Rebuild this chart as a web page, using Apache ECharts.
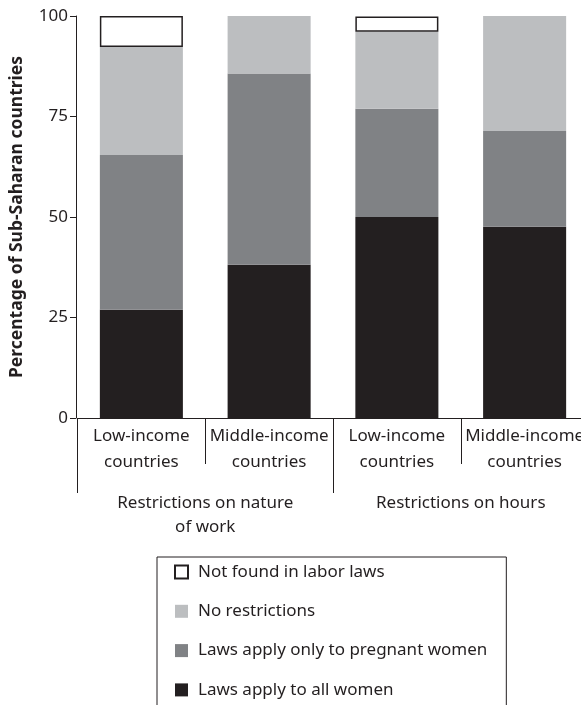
<!DOCTYPE html>
<html lang="en">
<head>
<meta charset="UTF-8">
<title>Sub-Saharan restrictions</title>
<script src="https://cdn.jsdelivr.net/npm/echarts@6/dist/echarts.min.js"></script>
<style>
  html, body { margin: 0; padding: 0; background: #fff; }
  #chart { width: 581px; height: 705px; }
</style>
</head>
<body>
<div id="chart"></div>
<script>
// categories
var categories = ['Low-income\ncountries', 'Middle-income\ncountries', 'Low-income\ncountries', 'Middle-income\ncountries'];
var groups = ['Restrictions on nature\nof work', 'Restrictions on hours'];
var yTicks = [0, 25, 50, 75, 100];

// percent of countries (stacked from the bottom)
var allWomen      = [26.9, 38.1, 50.0, 47.6];
var pregnantOnly  = [38.5, 47.6, 26.9, 23.8];
var noRestriction = [26.9, 14.3, 19.2, 28.6];
var notFound      = [7.7, 0, 3.8, 0];

var ink = '#231f20';
var font = '"Noto Sans", sans-serif';

function bar(name, data, style) {
  return {
    name: name,
    type: 'bar',
    stack: 'total',
    barWidth: '65%',
    data: data.map(function (v) { return v === 0 ? '-' : v; }),
    itemStyle: style
  };
}

var chart = echarts.init(document.getElementById('chart'));
chart.setOption({
  animation: false,
  textStyle: { fontFamily: font, color: ink },
  grid: { left: 77.5, top: 16, width: 511, height: 402, outerBoundsMode: 'none', containLabel: false },
  legend: {
    orient: 'vertical',
    left: 157,
    top: 557,
    height: 220,
    padding: [6, 19, 24, 17],
    borderColor: ink,
    borderWidth: 1,
    icon: 'rect',
    itemWidth: 13,
    itemHeight: 13,
    itemGap: 21.3,
    selectedMode: false,
    data: ['Not found in labor laws', 'No restrictions', 'Laws apply only to pregnant women', 'Laws apply to all women'],
    textStyle: { fontFamily: font, fontSize: 17, color: ink, lineHeight: 18, padding: [0, 0, 0, 5] }
  },
  xAxis: [{
    type: 'category',
    data: categories,
    axisLine: { lineStyle: { color: ink, width: 1 } },
    axisTick: { show: true, length: 46, lineStyle: { color: ink } },
    axisLabel: { interval: 0, fontFamily: font, fontSize: 17, color: ink, lineHeight: 26, margin: 5 }
  }, {
    type: 'category',
    data: groups,
    position: 'bottom',
    axisLine: { show: false },
    axisTick: { show: true, length: 75, lineStyle: { color: ink } },
    axisLabel: { interval: 0, fontFamily: font, fontSize: 17, color: ink, lineHeight: 24, margin: 73 }
  }],
  yAxis: {
    type: 'value',
    min: 0,
    max: 100,
    interval: 25,
    offset: 1.5,
    name: 'Percentage of Sub-Saharan countries',
    nameLocation: 'middle',
    nameRotate: 90,
    nameGap: 50,
    nameTextStyle: { fontFamily: font, fontSize: 17.5, fontWeight: 'bold', color: ink },
    axisLine: { show: true, lineStyle: { color: ink } },
    axisTick: { show: true, length: 6, lineStyle: { color: ink } },
    splitLine: { show: false },
    axisLabel: {
      fontFamily: font, fontSize: 17, color: ink, margin: 8,
      formatter: function (v) { return yTicks.indexOf(v) >= 0 ? v : ''; }
    }
  },
  series: [
    bar('Laws apply to all women', allWomen, { color: ink }),
    bar('Laws apply only to pregnant women', pregnantOnly, { color: '#808285' }),
    bar('No restrictions', noRestriction, { color: '#bcbec0' }),
    bar('Not found in labor laws', notFound, { color: '#ffffff', borderColor: ink, borderWidth: 1.5 })
  ]
});
</script>
</body>
</html>
